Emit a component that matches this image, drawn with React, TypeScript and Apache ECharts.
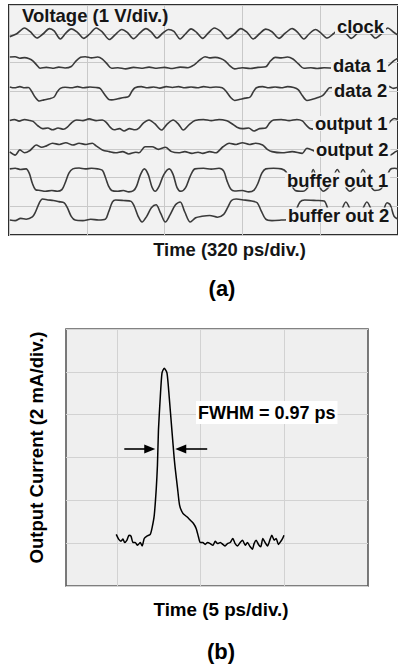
import React, { useEffect, useRef } from "react";
import * as echarts from "echarts";

const FONT = "'Liberation Sans', Arial, Helvetica, sans-serif";

// ---------- Panel (a): time in divisions (320 ps/div), voltage in divisions (1 V/div) ----------
const CLOCK: number[][] = [
  [0.01, 6.9], [0.1, 7.0], [0.2, 7.2], [0.27, 7.08], [0.36, 6.85], [0.44, 7.0], [0.52, 7.18], [0.58, 7.1],
  [0.66, 6.82], [0.73, 7.02], [0.8, 7.17], [0.88, 7.05], [0.96, 6.84], [1.04, 7.0], [1.12, 7.2], [1.2, 7.06],
  [1.29, 6.8], [1.37, 6.98], [1.45, 7.15], [1.52, 7.05], [1.6, 6.83], [1.68, 7.02], [1.76, 7.18], [1.83, 7.06],
  [1.9, 6.85], [1.98, 7.03], [2.05, 7.15], [2.12, 7.08], [2.2, 6.82], [2.27, 7.0], [2.34, 7.17], [2.41, 7.05],
  [2.49, 6.84], [2.56, 7.02], [2.64, 7.2], [2.72, 7.08], [2.81, 6.83], [2.9, 7.0], [2.98, 7.18], [3.06, 7.05],
  [3.14, 6.82], [3.22, 7.0], [3.3, 7.16], [3.38, 7.07], [3.47, 6.84], [3.55, 7.02], [3.64, 7.18], [3.71, 7.05],
  [3.79, 6.82], [3.86, 7.0], [3.94, 7.15], [4.0, 7.05], [4.09, 6.85], [4.17, 7.0], [4.25, 7.17], [4.32, 7.05],
  [4.4, 6.84], [4.48, 7.02], [4.56, 7.17], [4.63, 7.06], [4.71, 6.85], [4.79, 7.0], [4.87, 7.2], [4.94, 7.06],
  [5.0, 6.95],
];

const DATA1: number[][] = [
  [0.01, 6.19], [0.08, 6.2], [0.14, 6.15], [0.2, 6.17], [0.26, 6.13], [0.31, 6.05], [0.36, 5.9], [0.4, 5.8],
  [0.48, 5.83], [0.56, 5.8], [0.64, 5.84], [0.72, 5.81], [0.8, 5.86], [0.86, 6.05], [0.92, 6.18], [0.98, 6.2],
  [1.06, 6.16], [1.14, 6.19], [1.2, 6.12], [1.26, 5.95], [1.32, 5.8], [1.4, 5.82], [1.5, 5.78], [1.6, 5.83],
  [1.7, 5.8], [1.8, 5.84], [1.9, 5.8], [2.0, 5.83], [2.1, 5.79], [2.2, 5.84], [2.3, 5.82], [2.38, 5.92],
  [2.45, 6.08], [2.52, 6.2], [2.58, 6.16], [2.65, 6.18], [2.72, 6.14], [2.78, 6.05], [2.84, 5.88], [2.9, 5.78],
  [3.0, 5.82], [3.1, 5.79], [3.2, 5.83], [3.3, 5.85], [3.36, 6.05], [3.42, 6.18], [3.5, 6.16], [3.58, 6.19],
  [3.65, 6.12], [3.72, 5.95], [3.79, 5.8], [3.88, 5.82], [3.96, 5.79], [4.05, 5.82], [4.2, 5.8], [4.4, 5.83],
  [4.6, 5.8], [4.8, 5.82], [4.88, 5.9], [4.94, 6.05], [5.0, 6.15],
];

const DATA2: number[][] = [
  [0.01, 5.15], [0.07, 5.12], [0.14, 5.16], [0.2, 5.12], [0.25, 5.13], [0.29, 5.0], [0.34, 4.78], [0.39, 4.66],
  [0.45, 4.7], [0.52, 4.74], [0.58, 4.8], [0.62, 4.98], [0.66, 5.1], [0.72, 5.14], [0.8, 5.12], [0.88, 5.16],
  [0.96, 5.12], [1.04, 5.15], [1.12, 5.13], [1.17, 5.1], [1.22, 4.92], [1.28, 4.72], [1.32, 4.7], [1.4, 4.74],
  [1.48, 4.78], [1.54, 4.82], [1.58, 5.0], [1.62, 5.12], [1.7, 5.16], [1.78, 5.12], [1.86, 5.15], [1.94, 5.11],
  [2.02, 5.16], [2.1, 5.13], [2.18, 5.16], [2.26, 5.12], [2.34, 5.15], [2.42, 5.12], [2.5, 5.16], [2.58, 5.13],
  [2.66, 5.15], [2.74, 5.12], [2.79, 5.0], [2.85, 4.78], [2.9, 4.68], [2.97, 4.72], [3.04, 4.76], [3.1, 4.8],
  [3.14, 4.98], [3.18, 5.12], [3.26, 5.16], [3.34, 5.12], [3.42, 5.15], [3.5, 5.12], [3.58, 5.16], [3.66, 5.13],
  [3.72, 5.05], [3.77, 4.85], [3.83, 4.68], [3.9, 4.72], [3.97, 4.78], [4.03, 4.85], [4.08, 5.0], [4.12, 5.12],
  [4.3, 5.14], [4.5, 5.12], [4.7, 5.15], [4.82, 5.12], [4.88, 5.17], [4.94, 5.1], [5.0, 5.14],
];

const OUTPUT1: number[][] = [
  [0.01, 3.98], [0.07, 4.02], [0.13, 3.96], [0.2, 4.02], [0.27, 3.98], [0.31, 3.95], [0.37, 3.8], [0.43, 3.7],
  [0.5, 3.72], [0.56, 3.66], [0.63, 3.72], [0.7, 3.68], [0.75, 3.75], [0.81, 3.92], [0.87, 4.0], [0.95, 3.98],
  [1.03, 4.04], [1.12, 3.98], [1.2, 4.0], [1.25, 3.92], [1.3, 3.75], [1.35, 3.66], [1.42, 3.7], [1.48, 3.62],
  [1.55, 3.7], [1.62, 3.66], [1.67, 3.72], [1.73, 3.9], [1.8, 4.0], [1.87, 3.88], [1.96, 3.65], [2.03, 3.85],
  [2.11, 4.0], [2.18, 3.85], [2.24, 3.65], [2.32, 3.85], [2.39, 3.98], [2.5, 4.02], [2.6, 3.98], [2.7, 4.02],
  [2.8, 3.97], [2.86, 3.88], [2.93, 3.75], [3.0, 3.7], [3.08, 3.72], [3.15, 3.62], [3.22, 3.7], [3.3, 3.72],
  [3.35, 3.9], [3.4, 4.0], [3.5, 4.02], [3.6, 3.98], [3.7, 4.02], [3.77, 3.97], [3.82, 3.82], [3.87, 3.7],
  [3.97, 3.68], [4.1, 3.7], [4.2, 3.92], [4.3, 4.0], [4.45, 3.98], [4.55, 3.75], [4.65, 3.68], [4.78, 3.7],
  [4.83, 3.72], [4.9, 3.95], [4.95, 4.05], [5.0, 4.02],
];

const OUTPUT2: number[][] = [
  [0.01, 2.89], [0.08, 2.78], [0.14, 2.96], [0.2, 2.86], [0.27, 2.94], [0.31, 3.05], [0.35, 3.13], [0.42, 3.05],
  [0.48, 3.1], [0.56, 3.19], [0.65, 3.15], [0.73, 3.21], [0.82, 3.13], [0.9, 3.19], [0.99, 3.15], [1.07, 3.19],
  [1.12, 3.1], [1.2, 2.96], [1.29, 2.9], [1.37, 2.86], [1.46, 2.9], [1.54, 2.82], [1.63, 2.88], [1.67, 2.86],
  [1.75, 3.07], [1.84, 3.07], [1.92, 2.98], [2.01, 3.05], [2.09, 2.9], [2.18, 2.86], [2.26, 2.9], [2.35, 2.84],
  [2.43, 2.88], [2.49, 2.84], [2.58, 2.9], [2.66, 2.86], [2.75, 3.07], [2.83, 3.19], [2.92, 3.15], [3.0, 3.21],
  [3.09, 3.15], [3.17, 3.19], [3.26, 3.13], [3.32, 2.98], [3.38, 2.9], [3.51, 2.86], [3.64, 2.9], [3.77, 2.84],
  [3.83, 3.02], [3.95, 2.9], [4.1, 2.86], [4.3, 2.92], [4.5, 2.88], [4.7, 2.9], [4.83, 2.88], [4.9, 2.78],
  [4.97, 2.9], [5.0, 2.92],
];

const BUFFER1: number[][] = [
  [0.01, 2.3], [0.08, 2.32], [0.15, 2.28], [0.22, 2.3], [0.26, 2.15], [0.3, 1.8], [0.34, 1.58], [0.4, 1.55],
  [0.47, 1.52], [0.55, 1.55], [0.62, 1.52], [0.68, 1.58], [0.72, 1.8], [0.77, 2.15], [0.82, 2.3], [0.9, 2.33],
  [0.98, 2.3], [1.06, 2.32], [1.14, 2.3], [1.2, 2.25], [1.24, 2.0], [1.28, 1.7], [1.32, 1.55], [1.4, 1.52],
  [1.47, 1.55], [1.54, 1.5], [1.6, 1.54], [1.64, 1.7], [1.69, 2.1], [1.74, 2.3], [1.79, 2.1], [1.84, 1.65],
  [1.88, 1.52], [1.93, 1.7], [1.99, 2.1], [2.06, 2.3], [2.11, 2.1], [2.16, 1.65], [2.21, 1.52], [2.27, 1.65],
  [2.33, 2.05], [2.39, 2.3], [2.5, 2.32], [2.6, 2.29], [2.7, 2.32], [2.76, 2.22], [2.8, 1.9], [2.85, 1.6],
  [2.9, 1.53], [3.0, 1.55], [3.08, 1.5], [3.15, 1.56], [3.2, 1.8], [3.25, 2.15], [3.3, 2.3], [3.4, 2.32],
  [3.5, 2.3], [3.56, 2.2], [3.62, 1.8], [3.68, 1.55], [3.78, 1.52], [3.85, 1.7], [3.91, 2.28], [3.97, 1.8],
  [4.04, 1.52], [4.12, 1.7], [4.22, 2.28], [4.3, 1.8], [4.38, 1.52], [4.47, 1.75], [4.55, 2.28], [4.63, 1.8],
  [4.7, 1.55], [4.78, 1.6], [4.84, 1.9], [4.9, 2.28], [4.96, 2.32], [5.0, 2.3],
];

const BUFFER2: number[][] = [
  [0.01, 0.52], [0.08, 0.5], [0.15, 0.58], [0.22, 0.55], [0.3, 0.63], [0.34, 0.8], [0.39, 1.12], [0.43, 1.25],
  [0.5, 1.22], [0.57, 1.2], [0.64, 1.16], [0.71, 1.12], [0.75, 0.95], [0.8, 0.65], [0.85, 0.52], [0.95, 0.5],
  [1.05, 0.55], [1.15, 0.52], [1.24, 0.55], [1.28, 0.8], [1.33, 1.15], [1.37, 1.22], [1.47, 1.2], [1.57, 1.17],
  [1.61, 1.0], [1.66, 0.65], [1.71, 0.45], [1.77, 0.65], [1.83, 0.95], [1.89, 1.05], [1.95, 0.75], [2.01, 0.45],
  [2.07, 0.7], [2.14, 1.05], [2.2, 1.15], [2.26, 0.8], [2.33, 0.45], [2.4, 0.6], [2.48, 0.65], [2.58, 0.68],
  [2.68, 0.62], [2.76, 0.72], [2.81, 0.95], [2.86, 1.2], [2.92, 1.25], [3.02, 1.22], [3.12, 1.18], [3.19, 1.12],
  [3.24, 0.85], [3.3, 0.55], [3.38, 0.5], [3.5, 0.52], [3.62, 0.55], [3.68, 0.8], [3.74, 1.15], [3.8, 1.22],
  [3.95, 1.2], [4.05, 1.18], [4.1, 0.9], [4.17, 0.5], [4.25, 0.7], [4.33, 1.15], [4.4, 0.8], [4.47, 0.5],
  [4.53, 0.8], [4.6, 1.15], [4.67, 0.8], [4.74, 0.5], [4.8, 0.75], [4.86, 1.12], [4.9, 1.05], [4.95, 0.65],
  [5.0, 0.55],
];

const TRACE_NAMES = ["clock", "data 1", "data 2", "output 1", "output 2", "buffer out 1", "buffer out 2"];
const TRACES = [CLOCK, DATA1, DATA2, OUTPUT1, OUTPUT2, BUFFER1, BUFFER2];

// ---------- Panel (b): time in ps (5 ps/div), current in mA (2 mA/div) ----------
const PULSE: number[][] = [
  [-0.03, 2.41], [0.11, 2.19], [0.25, 2.09], [0.37, 2.19], [0.47, 2.03], [0.61, 2.14], [0.73, 2.37], [0.85, 2.33],
  [0.97, 2.03], [1.1, 2.03], [1.24, 1.9], [1.4, 2.03], [1.52, 1.87], [1.64, 2.22], [1.8, 2.33], [2.0, 2.41],
  [2.12, 2.76], [2.24, 3.31], [2.36, 4.56], [2.43, 5.65], [2.49, 7.29], [2.6, 8.84], [2.7, 9.94], [2.83, 10.17],
  [3.0, 9.94], [3.13, 8.84], [3.29, 7.29], [3.43, 5.96], [3.49, 5.49], [3.63, 4.56], [3.75, 3.78], [3.95, 3.39],
  [4.19, 3.23], [4.39, 3.07], [4.58, 2.92], [4.74, 2.69], [4.88, 2.29], [4.98, 2.03], [5.14, 2.03], [5.28, 1.94],
  [5.42, 2.03], [5.58, 1.98], [5.74, 1.9], [5.88, 2.09], [6.02, 1.98], [6.18, 2.03], [6.34, 1.94], [6.47, 1.87],
  [6.61, 1.98], [6.77, 2.03], [6.93, 2.22], [7.07, 1.98], [7.21, 1.87], [7.37, 2.03], [7.51, 2.14], [7.67, 1.9],
  [7.8, 2.03], [7.97, 1.83], [8.1, 1.72], [8.2, 1.98], [8.32, 2.14], [8.46, 1.94], [8.6, 1.83], [8.72, 2.22],
  [8.86, 2.03], [9.0, 1.87], [9.16, 2.19], [9.26, 2.37], [9.4, 2.14], [9.52, 2.22], [9.65, 1.94], [9.8, 2.09],
  [9.92, 2.25], [9.98, 2.37],
];

const GRID_B_X = [0, 5, 10];
const FWHM_LEFT = [0.45, 1.97];
const FWHM_RIGHT = [5.4, 3.82];
const FWHM_LEVEL = 6.4;
const FWHM_TEXT = "FWHM = 0.97 ps";

const TITLE_A = "Voltage (1 V/div.)";
const XNAME_A = "Time (320 ps/div.)";
const XNAME_B = "Time (5 ps/div.)";
const YNAME_B = "Output Current (2 mA/div.)";

// label layout (left x, middle y) for the trace names in panel (a)
const LABEL_LAYOUT = [
  [335, 26.5], [331, 65], [332, 90], [313, 123.5], [314, 149.5], [285, 180], [286, 215],
];

const BG_A = "#f2f2f2";
const BG_B = "#efefef";

export default function App() {
  const ref = useRef<HTMLDivElement>(null);

  useEffect(() => {
    if (!ref.current) return;
    const chart = echarts.init(ref.current, undefined, { renderer: "svg" });

    const traceSeries = TRACES.map((d, i) => ({
      type: "line",
      name: TRACE_NAMES[i],
      xAxisIndex: 0,
      yAxisIndex: 0,
      data: d,
      showSymbol: false,
      smooth: 0.3,
      lineStyle: { color: "#3a3a3a", width: 1.6 },
      z: 3,
      silent: true,
    }));

    const labelGraphics = TRACE_NAMES.map((name, i) => ({
      type: "text",
      z: 100,
      x: LABEL_LAYOUT[i][0],
      y: LABEL_LAYOUT[i][1],
      style: {
        text: name,
        fill: "#151515",
        fontFamily: FONT,
        fontWeight: "bold",
        fontSize: 18.4,
        align: "left",
        verticalAlign: "middle",
        backgroundColor: BG_A,
        padding: [0, 2],
        lineHeight: 15,
      },
    }));

    const textStyle = (text: string, size: number, color = "#111") => ({
      text,
      fill: color,
      fontFamily: FONT,
      fontWeight: "bold",
      fontSize: size,
      align: "center",
      verticalAlign: "middle",
    });

    chart.setOption({
      animation: false,
      backgroundColor: "#ffffff",
      grid: [
        {
          left: 9, top: 5, width: 392, height: 230,
          show: true, backgroundColor: BG_A, borderColor: "#2e2e2e", borderWidth: 2,
        },
        {
          left: 66, top: 329, width: 302, height: 257,
          show: true, backgroundColor: BG_B, borderColor: "#5a5a5a", borderWidth: 1.6,
        },
      ],
      xAxis: [
        {
          gridIndex: 0, type: "value", min: 0, max: 5, interval: 1,
          axisLine: { show: false }, axisTick: { show: false }, axisLabel: { show: false },
          splitLine: { show: true, lineStyle: { color: "#c9c9c9", width: 1 } },
        },
        {
          gridIndex: 1, type: "value", min: -3.03, max: 15,
          axisLine: { show: false }, axisTick: { show: false }, axisLabel: { show: false },
          splitLine: { show: false },
        },
      ],
      yAxis: [
        {
          gridIndex: 0, type: "value", min: 0, max: 8, interval: 1,
          axisLine: { show: false }, axisTick: { show: false }, axisLabel: { show: false },
          splitLine: { show: true, lineStyle: { color: "#c9c9c9", width: 1 } },
        },
        {
          gridIndex: 1, type: "value", min: 0, max: 12, interval: 2,
          axisLine: { show: false }, axisTick: { show: false }, axisLabel: { show: false },
          splitLine: { show: true, lineStyle: { color: "#d2d2d2", width: 1 } },
        },
      ],
      series: [
        ...traceSeries,
        {
          type: "line",
          xAxisIndex: 1,
          yAxisIndex: 1,
          data: [],
          silent: true,
          markLine: {
            silent: true,
            symbol: ["none", "none"],
            z: 1,
            label: { show: false },
            lineStyle: { color: "#d2d2d2", width: 1, type: "solid" },
            data: GRID_B_X.map((v) => ({ xAxis: v })),
          },
        },
        {
          type: "line",
          name: "pulse",
          xAxisIndex: 1,
          yAxisIndex: 1,
          data: PULSE,
          showSymbol: false,
          smooth: 0.2,
          lineStyle: { color: "#000", width: 1.5 },
          z: 3,
          silent: true,
          markLine: {
            silent: true,
            symbol: ["none", "triangle"],
            symbolSize: [9, 11],
            label: { show: false },
            lineStyle: { color: "#000", width: 1.6, type: "solid" },
            itemStyle: { color: "#000" },
            data: [
              [{ coord: [FWHM_LEFT[0], FWHM_LEVEL] }, { coord: [FWHM_LEFT[1], FWHM_LEVEL] }],
              [{ coord: [FWHM_RIGHT[0], FWHM_LEVEL] }, { coord: [FWHM_RIGHT[1], FWHM_LEVEL] }],
            ],
          },
        },
      ],
      graphic: [
        {
          type: "text", z: 100, x: 22, y: 15.5,
          style: { ...textStyle(TITLE_A, 18.5, "#151515"), align: "left" },
        },
        ...labelGraphics,
        { type: "text", z: 100, x: 229.5, y: 249.5, style: textStyle(XNAME_A, 18.4, "#151515") },
        { type: "text", z: 100, x: 222, y: 288.5, style: textStyle("(a)", 22, "#000") },
        {
          type: "text", z: 100, x: 196, y: 412.5,
          style: {
            ...textStyle(FWHM_TEXT, 18, "#000"), align: "left",
            backgroundColor: "#ffffff", padding: [2, 2, 2, 2], lineHeight: 19,
          },
        },
        {
          type: "text", z: 100, x: 36, y: 447.5, rotation: Math.PI / 2,
          style: textStyle(YNAME_B, 18.6, "#000"),
        },
        { type: "text", z: 100, x: 221, y: 609.5, style: textStyle(XNAME_B, 18.8, "#000") },
        { type: "text", z: 100, x: 221, y: 651, style: textStyle("(b)", 22, "#000") },
      ],
    });

    return () => chart.dispose();
  }, []);

  return (
    <div
      ref={ref}
      style={{ position: "absolute", left: 0, top: 0, width: 398, height: 667, background: "#fff" }}
    />
  );
}
